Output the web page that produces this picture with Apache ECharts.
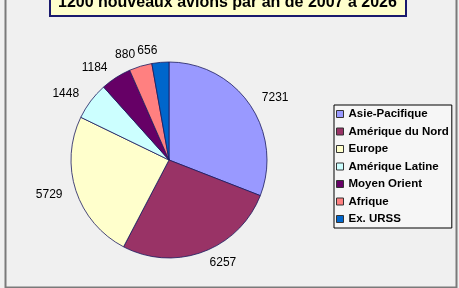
<!DOCTYPE html>
<html><head><meta charset="utf-8">
<script src="https://cdn.jsdelivr.net/npm/echarts@6/dist/echarts.min.js"></script>
<style>html,body{margin:0;padding:0;background:#f0f0f0;}#c{width:459px;height:288px;}</style>
</head><body><div id="c"></div>
<script>
const titleText = '1200 nouveaux avions par an de 2007 à 2026';
const categories = ['Asie-Pacifique','Amérique du Nord','Europe','Amérique Latine','Moyen Orient','Afrique','Ex. URSS'];
const values = [7231, 6257, 5729, 1448, 1184, 880, 656];
const colors = ['#9999ff','#993366','#ffffcc','#ccffff','#660066','#ff8080','#0066cc'];

const chart = echarts.init(document.getElementById('c'), null, {renderer:'canvas'});
chart.setOption({
  backgroundColor: '#f0f0f0',
  animation: false,
  color: colors,
  graphic: [{
    type: 'rect', left: 3, top: -5, shape: {width: 451, height: 290},
    style: {fill: 'none', stroke: '#7a7a7a', lineWidth: 2}, silent: true
  }],
  title: {
    text: titleText, left: 50, top: -8,
    backgroundColor: '#ffffcc', borderColor: '#1a1a6e', borderWidth: 2,
    padding: [3, 9, 5, 8],
    textStyle: {fontFamily: 'Liberation Sans, Arial', fontWeight: 'bold', fontSize: 16, lineHeight: 16, color: '#000'}
  },
  legend: {
    orient: 'vertical', left: 334, top: 105,
    backgroundColor: '#f6f6f6', borderColor: '#000', borderWidth: 1,
    padding: [3, 3, 3, 2],
    itemWidth: 7, itemHeight: 7, itemGap: 5.5,
    icon: 'rect',
    itemStyle: {borderColor: '#333', borderWidth: 1},
    textStyle: {fontFamily: 'Liberation Sans, Arial', fontWeight: 'bold', fontSize: 11.5, color: '#000', lineHeight: 12},
    data: categories
  },
  series: [{
    type: 'pie', center: [169, 160], radius: 98,
    startAngle: 90, clockwise: true,
    avoidLabelOverlap: false,
    itemStyle: {borderColor: '#1a1a5e', borderWidth: 0.8},
    label: {show: true, position: 'outside', formatter: '{c}', distanceToLabelLine: 2,
      fontFamily: 'Liberation Sans, Arial', fontSize: 12, color: '#000'},
    labelLine: {show: false, length: 12, length2: 0},
    emphasis: {disabled: true},
    data: categories.map((n, i) => ({name: n, value: values[i]}))
  }]
});
</script></body></html>
